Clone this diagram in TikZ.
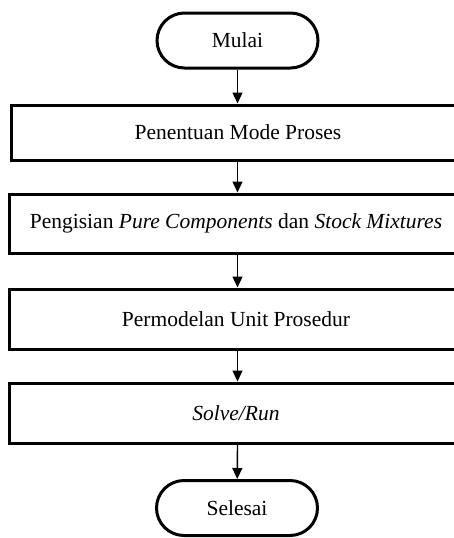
\documentclass[tikz,border=0pt]{standalone}
\usepackage{fontspec}
\setmainfont{Liberation Serif}
\usetikzlibrary{arrows.meta,shapes.misc}
\tikzset{
  terminal/.style={draw, line width=3pt, rounded rectangle, minimum width=161pt, minimum height=55pt, inner sep=0pt},
  stepbox/.style={draw, line width=3pt, rectangle, minimum width=454pt, inner sep=0pt},
  flow/.style={line width=1.4pt, -{Triangle[length=11pt,width=10pt]}}
}
\begin{document}
\begin{tikzpicture}[x=1pt,y=-1pt]
  \useasboundingbox (0,0) rectangle (453,538);
  {\fontsize{21.5}{26}\selectfont

  % Start
  \node [terminal] (mulai) at (237.5,40.5) {Mulai};%

  % Steps
  \node [stepbox, minimum height=55pt] (mode) at (238,132.5) {Penentuan Mode Proses};%
  \node [stepbox, minimum height=59pt] (isi) at (236,223.5) {Pengisian \textit{Pure Components} dan \textit{Stock Mixtures}};%
  \node [stepbox, minimum height=60pt] (unit) at (236,319) {Permodelan Unit Prosedur};%
  \node [stepbox, minimum height=60pt] (run) at (236,413) {\textit{Solve/Run}};%

  % End
  \node [terminal] (selesai) at (237,508) {Selesai};%

  % Arrows
  \draw [flow] (mulai) -- (mulai |- mode.north);%
  \draw [flow] (mulai |- mode.south) -- (mulai |- isi.north);%
  \draw [flow] (mulai |- isi.south) -- (mulai |- unit.north);%
  \draw [flow] (mulai |- unit.south) -- (mulai |- run.north);%
  \draw [flow] (mulai |- run.south) -- (selesai);%
  }
\end{tikzpicture}
\end{document}
